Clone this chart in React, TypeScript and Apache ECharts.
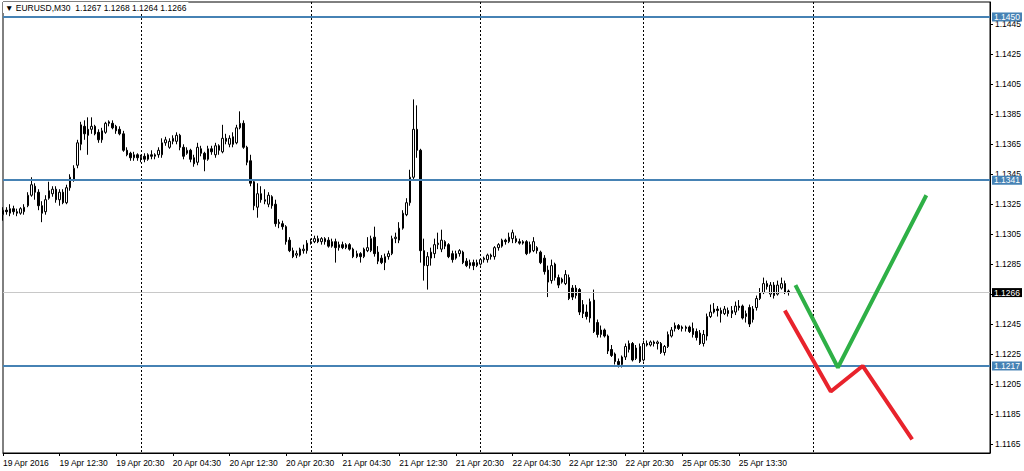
import React, { useEffect, useRef } from "react";
import * as echarts from "echarts";

// ---- DATA ----
// Candles: [open, close, low, high], M30 bars from 19 Apr 2016 04:30
const candles: number[][] = [
  [1.1318,1.1321,1.1314,1.1323],[1.1321,1.1320,1.1318,1.1323],[1.1319,1.1322,1.1317,1.1325],[1.1322,1.1320,1.1318,1.1324],
  [1.1320,1.1319,1.1317,1.1322],[1.1319,1.1322,1.1318,1.1323],[1.1320,1.1323,1.1318,1.1325],[1.1324,1.1331,1.1323,1.1333],
  [1.1331,1.1338,1.1330,1.1343],[1.1337,1.1333,1.1328,1.1339],[1.1333,1.1324,1.1321,1.1335],[1.1324,1.1319,1.1313,1.1327],
  [1.1320,1.1328,1.1318,1.1331],[1.1329,1.1334,1.1328,1.1340],[1.1332,1.1335,1.1330,1.1337],[1.1335,1.1328,1.1326,1.1337],
  [1.1328,1.1333,1.1324,1.1335],[1.1333,1.1326,1.1325,1.1335],[1.1326,1.1336,1.1325,1.1338],[1.1336,1.1343,1.1334,1.1345],
  [1.1341,1.1349,1.1340,1.1351],[1.1351,1.1366,1.1349,1.1368],[1.1365,1.1378,1.1361,1.1380],[1.1377,1.1372,1.1368,1.1381],
  [1.1375,1.1371,1.1358,1.1383],[1.1375,1.1377,1.1372,1.1383],[1.1377,1.1372,1.1371,1.1378],[1.1373,1.1368,1.1366,1.1375],
  [1.1368,1.1374,1.1366,1.1376],[1.1373,1.1379,1.1372,1.1380],[1.1379,1.1380,1.1377,1.1381],[1.1379,1.1376,1.1375,1.1381],
  [1.1377,1.1374,1.1372,1.1378],[1.1375,1.1372,1.1371,1.1377],[1.1372,1.1361,1.1360,1.1374],[1.1361,1.1358,1.1357,1.1363],
  [1.1359,1.1356,1.1354,1.1360],[1.1356,1.1358,1.1354,1.1360],[1.1358,1.1356,1.1354,1.1359],[1.1356,1.1357,1.1353,1.1358],
  [1.1357,1.1355,1.1353,1.1359],[1.1355,1.1358,1.1354,1.1359],[1.1358,1.1357,1.1355,1.1361],[1.1357,1.1358,1.1355,1.1359],
  [1.1358,1.1361,1.1356,1.1363],[1.1358,1.1366,1.1356,1.1369],[1.1366,1.1368,1.1364,1.1370],[1.1363,1.1367,1.1362,1.1369],
  [1.1367,1.1369,1.1365,1.1371],[1.1367,1.1371,1.1365,1.1373],[1.1371,1.1363,1.1361,1.1372],[1.1363,1.1357,1.1355,1.1365],
  [1.1359,1.1361,1.1358,1.1363],[1.1361,1.1355,1.1353,1.1362],[1.1356,1.1352,1.1350,1.1358],[1.1353,1.1363,1.1351,1.1366],
  [1.1362,1.1359,1.1357,1.1364],[1.1359,1.1355,1.1347,1.1360],[1.1355,1.1362,1.1354,1.1364],[1.1362,1.1360,1.1358,1.1364],
  [1.1358,1.1364,1.1356,1.1366],[1.1364,1.1361,1.1358,1.1365],[1.1360,1.1369,1.1359,1.1378],[1.1369,1.1367,1.1365,1.1372],
  [1.1365,1.1369,1.1363,1.1371],[1.1370,1.1365,1.1363,1.1373],[1.1366,1.1376,1.1365,1.1378],[1.1376,1.1379,1.1375,1.1387],
  [1.1379,1.1363,1.1362,1.1381],[1.1363,1.1353,1.1351,1.1364],[1.1354,1.1339,1.1337,1.1358],[1.1340,1.1324,1.1321,1.1341],
  [1.1323,1.1332,1.1316,1.1339],[1.1332,1.1328,1.1326,1.1337],[1.1328,1.1327,1.1325,1.1335],[1.1325,1.1331,1.1323,1.1333],
  [1.1330,1.1324,1.1322,1.1331],[1.1325,1.1312,1.1310,1.1328],[1.1312,1.1313,1.1309,1.1315],[1.1312,1.1310,1.1308,1.1314],
  [1.1310,1.1300,1.1298,1.1311],[1.1301,1.1294,1.1293,1.1303],[1.1294,1.1290,1.1289,1.1296],[1.1291,1.1292,1.1289,1.1294],
  [1.1291,1.1295,1.1290,1.1296],[1.1294,1.1295,1.1292,1.1298],[1.1294,1.1299,1.1292,1.1301],[1.1299,1.1300,1.1298,1.1302],
  [1.1300,1.1302,1.1299,1.1304],[1.1302,1.1300,1.1299,1.1304],[1.1300,1.1302,1.1298,1.1303],[1.1302,1.1300,1.1298,1.1303],
  [1.1301,1.1297,1.1296,1.1303],[1.1297,1.1300,1.1296,1.1302],[1.1300,1.1296,1.1286,1.1302],[1.1296,1.1298,1.1294,1.1300],
  [1.1298,1.1296,1.1295,1.1300],[1.1296,1.1298,1.1295,1.1299],[1.1298,1.1295,1.1294,1.1299],[1.1295,1.1290,1.1289,1.1296],
  [1.1290,1.1292,1.1289,1.1294],[1.1292,1.1290,1.1286,1.1293],[1.1290,1.1295,1.1289,1.1296],[1.1294,1.1296,1.1293,1.1303],
  [1.1294,1.1302,1.1293,1.1304],[1.1303,1.1292,1.1290,1.1310],[1.1293,1.1287,1.1285,1.1297],[1.1289,1.1286,1.1285,1.1291],
  [1.1286,1.1290,1.1281,1.1292],[1.1290,1.1292,1.1288,1.1294],[1.1292,1.1302,1.1291,1.1304],[1.1302,1.1303,1.1299,1.1306],
  [1.1301,1.1309,1.1299,1.1313],[1.1309,1.1319,1.1308,1.1321],[1.1318,1.1326,1.1317,1.1329],[1.1326,1.1343,1.1324,1.1348],
  [1.1343,1.1375,1.1341,1.1395],[1.1375,1.1361,1.1356,1.1391],[1.1361,1.1294,1.1286,1.1362],[1.1294,1.1284,1.1274,1.1302],
  [1.1284,1.1290,1.1268,1.1293],[1.1289,1.1293,1.1284,1.1296],[1.1292,1.1298,1.1289,1.1302],[1.1298,1.1299,1.1295,1.1306],
  [1.1295,1.1301,1.1293,1.1308],[1.1300,1.1297,1.1295,1.1301],[1.1298,1.1290,1.1289,1.1299],[1.1292,1.1288,1.1286,1.1294],
  [1.1289,1.1292,1.1288,1.1294],[1.1292,1.1294,1.1290,1.1295],[1.1293,1.1286,1.1285,1.1294],[1.1287,1.1284,1.1283,1.1289],
  [1.1284,1.1286,1.1282,1.1288],[1.1286,1.1284,1.1281,1.1288],[1.1284,1.1286,1.1283,1.1288],[1.1285,1.1288,1.1284,1.1289],
  [1.1288,1.1289,1.1286,1.1290],[1.1288,1.1291,1.1286,1.1292],[1.1291,1.1290,1.1288,1.1292],[1.1290,1.1296,1.1288,1.1297],
  [1.1296,1.1298,1.1294,1.1299],[1.1297,1.1301,1.1296,1.1302],[1.1301,1.1300,1.1298,1.1302],[1.1300,1.1303,1.1299,1.1306],
  [1.1302,1.1306,1.1299,1.1308],[1.1302,1.1300,1.1299,1.1304],[1.1300,1.1299,1.1298,1.1302],[1.1299,1.1300,1.1298,1.1301],
  [1.1300,1.1292,1.1291,1.1301],[1.1298,1.1293,1.1292,1.1300],[1.1294,1.1300,1.1293,1.1303],[1.1296,1.1294,1.1292,1.1297],
  [1.1293,1.1286,1.1285,1.1294],[1.1289,1.1280,1.1278,1.1291],[1.1281,1.1273,1.1263,1.1284],[1.1274,1.1284,1.1272,1.1288],
  [1.1285,1.1276,1.1274,1.1286],[1.1276,1.1271,1.1269,1.1278],[1.1273,1.1275,1.1272,1.1276],[1.1272,1.1278,1.1271,1.1281],
  [1.1276,1.1262,1.1261,1.1278],[1.1269,1.1263,1.1261,1.1271],[1.1264,1.1269,1.1262,1.1271],[1.1268,1.1253,1.1251,1.1269],
  [1.1258,1.1252,1.1249,1.1261],[1.1253,1.1250,1.1248,1.1258],[1.1249,1.1260,1.1246,1.1262],[1.1261,1.1240,1.1239,1.1268],
  [1.1246,1.1238,1.1236,1.1248],[1.1238,1.1241,1.1236,1.1244],[1.1241,1.1237,1.1236,1.1242],[1.1237,1.1227,1.1225,1.1238],
  [1.1228,1.1224,1.1223,1.1231],[1.1225,1.1220,1.1218,1.1226],[1.1220,1.1218,1.1216,1.1222],[1.1218,1.1223,1.1216,1.1224],
  [1.1223,1.1230,1.1221,1.1232],[1.1228,1.1232,1.1226,1.1234],[1.1232,1.1221,1.1220,1.1233],[1.1222,1.1229,1.1221,1.1231],
  [1.1230,1.1220,1.1219,1.1232],[1.1221,1.1232,1.1220,1.1234],[1.1232,1.1231,1.1230,1.1234],[1.1231,1.1233,1.1230,1.1234],
  [1.1233,1.1232,1.1230,1.1234],[1.1232,1.1233,1.1228,1.1234],[1.1232,1.1226,1.1225,1.1233],[1.1226,1.1230,1.1224,1.1231],
  [1.1230,1.1238,1.1229,1.1240],[1.1237,1.1241,1.1236,1.1243],[1.1242,1.1244,1.1240,1.1246],[1.1244,1.1242,1.1241,1.1245],
  [1.1243,1.1242,1.1240,1.1244],[1.1242,1.1243,1.1240,1.1244],[1.1243,1.1240,1.1239,1.1244],[1.1242,1.1238,1.1236,1.1246],
  [1.1240,1.1236,1.1234,1.1242],[1.1239,1.1232,1.1231,1.1241],[1.1232,1.1238,1.1230,1.1241],[1.1237,1.1250,1.1234,1.1252],
  [1.1250,1.1253,1.1249,1.1258],[1.1253,1.1255,1.1252,1.1259],[1.1255,1.1254,1.1250,1.1257],[1.1254,1.1252,1.1246,1.1256],
  [1.1252,1.1255,1.1251,1.1257],[1.1254,1.1252,1.1250,1.1256],[1.1252,1.1254,1.1249,1.1257],[1.1253,1.1257,1.1251,1.1260],
  [1.1257,1.1256,1.1254,1.1261],[1.1257,1.1249,1.1248,1.1258],[1.1250,1.1252,1.1246,1.1254],[1.1256,1.1245,1.1243,1.1258],
  [1.1248,1.1255,1.1246,1.1257],[1.1256,1.1262,1.1254,1.1264],[1.1262,1.1266,1.1261,1.1269],[1.1266,1.1272,1.1265,1.1276],
  [1.1272,1.1270,1.1268,1.1274],[1.1265,1.1271,1.1263,1.1273],[1.1271,1.1264,1.1262,1.1273],[1.1265,1.1271,1.1264,1.1274],
  [1.1269,1.1272,1.1268,1.1276],[1.1272,1.1266,1.1265,1.1274],[1.1267,1.1266,1.1264,1.1268],
];

// x axis: total bar slots shown (bars + empty future space)
const totalSlots = 280;
const barsPerTick = 16;
const xTickLabels = [
  "19 Apr 2016", "19 Apr 12:30", "19 Apr 20:30", "20 Apr 04:30", "20 Apr 12:30",
  "20 Apr 20:30", "21 Apr 04:30", "21 Apr 12:30", "21 Apr 20:30", "22 Apr 04:30",
  "22 Apr 12:30", "22 Apr 20:30", "25 Apr 05:30", "25 Apr 13:30",
];
// bar slots where a new day starts (vertical dotted grid)
const daySeparators = [39, 87, 135, 181, 229];

// y axis
const yMin = 1.11589;
const yMax = 1.1460;
const yTicks = [1.1165, 1.1185, 1.1205, 1.1225, 1.1245, 1.1265, 1.1285, 1.1305, 1.1325, 1.1345, 1.1365, 1.1385, 1.1405, 1.1425, 1.1445];

// horizontal levels
const levels = [1.1450, 1.1341, 1.1217];
const currentPrice = 1.1266;
const titleText = "▼ EURUSD,M30  1.1267 1.1268 1.1264 1.1266";

// hand-drawn forecast paths: [bar slot, price]
const greenPath = [[224, 1.1271], [236, 1.1216], [261, 1.1331]];
const redPath = [[221, 1.1254], [234, 1.1200], [243, 1.1217], [257, 1.1168]];

const FONT = "'Liberation Sans', 'DejaVu Sans', sans-serif";
const BLUE = "#4682b4";
const FS = 8.5;

export default function App() {
  const ref = useRef<HTMLDivElement>(null);
  useEffect(() => {
    if (!ref.current) return;
    const chart = echarts.init(ref.current, null, { renderer: "svg" });
    const categories = Array.from({ length: totalSlots }, (_, i) => String(i));
    const isTick = (i: number) => i % barsPerTick === 0 && i / barsPerTick < xTickLabels.length;
    const tagLabel = (bg: string) => ({
      show: true,
      position: "end",
      distance: 2,
      formatter: (p: any) => Number(p.value).toFixed(4),
      color: "#fff",
      backgroundColor: bg,
      fontSize: FS,
      lineHeight: 9,
      fontFamily: FONT,
      padding: [0, 2, 0, 2],
    });
    const markData: any[] = levels.map((v) => ({
      yAxis: v,
      lineStyle: { color: BLUE, width: 2, type: "solid" },
      label: tagLabel(BLUE),
    }));
    markData.push({
      yAxis: currentPrice,
      lineStyle: { color: "#c8c8c8", width: 1, type: "solid" },
      label: tagLabel("#000"),
    });
    chart.setOption({
      animation: false,
      backgroundColor: "#fff",
      title: {
        text: titleText,
        left: 3,
        top: 2,
        padding: [1, 2, 1, 2],
        backgroundColor: "#fff",
        textStyle: { fontSize: FS, fontWeight: "normal", color: "#000", fontFamily: FONT },
      },
      grid: { left: 2, right: 34, top: 2, bottom: 18, show: true, borderColor: "#000", borderWidth: 1 },
      xAxis: {
        type: "category",
        data: categories,
        boundaryGap: false,
        axisLine: { lineStyle: { color: "#000", width: 1 } },
        axisTick: { interval: (i: number) => isTick(i), length: 3, lineStyle: { color: "#000" } },
        axisLabel: {
          interval: (i: number) => isTick(i),
          formatter: (_v: string, i: number) => xTickLabels[i / barsPerTick] ?? "",
          align: "left",
          fontSize: FS,
          color: "#000",
          fontFamily: FONT,
          margin: 5,
        },
        splitLine: {
          show: true,
          interval: (i: number) => daySeparators.includes(i),
          lineStyle: { color: "#000", width: 1, type: [2, 2] },
        },
      },
      yAxis: {
        type: "value",
        position: "right",
        min: yMin,
        max: yMax,
        axisLine: { show: true, lineStyle: { color: "#000" } },
        axisTick: { show: true, customValues: yTicks, length: 3, lineStyle: { color: "#000" } },
        axisLabel: {
          customValues: yTicks,
          formatter: (v: number) => v.toFixed(4),
          fontSize: FS,
          color: "#000",
          fontFamily: FONT,
          margin: 5,
        },
        splitLine: { show: false },
      },
      series: [
        {
          type: "candlestick",
          data: candles,
          barWidth: 2,
          itemStyle: { color: "#fff", color0: "#000", borderColor: "#000", borderColor0: "#000", borderWidth: 1 },
          markLine: { silent: true, symbol: ["none", "none"], precision: 4, animation: false, data: markData },
        },
        {
          type: "line",
          data: greenPath,
          symbol: "none",
          lineStyle: { color: "#2eb046", width: 4 },
          z: 5,
        },
        {
          type: "line",
          data: redPath,
          symbol: "none",
          lineStyle: { color: "#e8232c", width: 4 },
          z: 5,
        },
      ],
    });
    return () => chart.dispose();
  }, []);
  return (
    <div
      ref={ref}
      style={{ position: "fixed", left: 0, top: 0, width: 1024, height: 471, background: "#fff" }}
    />
  );
}
